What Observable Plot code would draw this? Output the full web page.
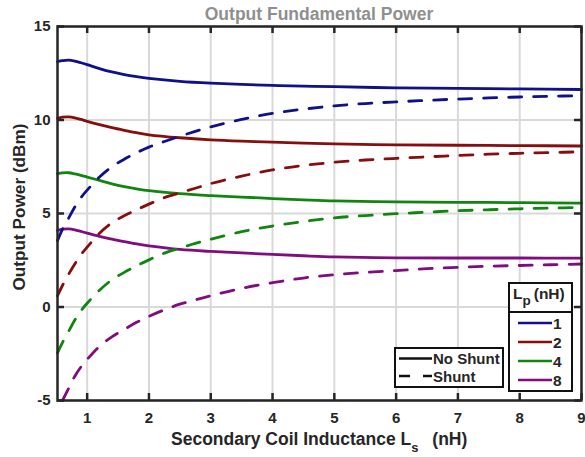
<!DOCTYPE html>
<html><head><meta charset="utf-8">
<script src="https://cdn.jsdelivr.net/npm/d3@7"></script>
<script src="https://cdn.jsdelivr.net/npm/@observablehq/plot@0.6"></script>
<style>
body{margin:0;background:#fff;}
#wrap{position:relative;width:585px;height:457px;}
</style></head><body><div id="wrap"></div>
<script>
// ---- data ----
const lpValues = ["1", "2", "4", "8"];
const lpColors = ["#10108a", "#860e0e", "#108610", "#800c80"];
const xTicks = [1, 2, 3, 4, 5, 6, 7, 8, 9];
const yTicks = [-5, 0, 5, 10, 15];

const lsSolid = [0.52,0.6,0.7,0.8,0.9,1.0,1.2,1.4,1.6,1.8,2.0,2.5,3.0,3.5,4.0,4.5,5.0,6.0,7.0,8.0,9.0];
const solid1 = [13.12,13.17,13.2,13.15,13.06,12.96,12.75,12.57,12.43,12.32,12.23,12.07,11.97,11.9,11.85,11.81,11.78,11.72,11.69,11.66,11.63];
const solid2 = [10.09,10.15,10.17,10.12,10.03,9.93,9.75,9.59,9.45,9.32,9.21,9.05,8.94,8.87,8.82,8.76,8.72,8.67,8.65,8.63,8.61];
const solid4 = [7.13,7.17,7.18,7.12,7.04,6.95,6.77,6.59,6.44,6.32,6.22,6.06,5.96,5.88,5.8,5.73,5.67,5.62,5.6,5.58,5.56];
const solid8 = [4.1,4.16,4.18,4.13,4.04,3.95,3.78,3.63,3.5,3.37,3.27,3.08,2.97,2.89,2.81,2.74,2.68,2.63,2.62,2.62,2.61];

const lsDash = [0.52,0.6,0.7,0.8,0.9,1.0,1.2,1.4,1.6,1.8,2.0,2.25,2.5,2.75,3.0,3.5,4.0,4.5,5.0,5.5,6.0,6.5,7.0,7.5,8.0,8.5,9.0];
const dash1 = [3.55,4.15,4.75,5.35,5.85,6.25,6.95,7.5,7.9,8.25,8.55,8.85,9.13,9.39,9.63,10.03,10.36,10.58,10.76,10.88,10.97,11.05,11.12,11.18,11.23,11.27,11.3];
const dash2 = [0.6,1.15,1.75,2.3,2.8,3.2,3.95,4.5,4.88,5.2,5.5,5.85,6.1,6.35,6.6,7.0,7.33,7.57,7.74,7.86,7.95,8.03,8.1,8.17,8.22,8.26,8.3];
const dash4 = [-2.45,-1.9,-1.3,-0.7,-0.2,0.2,0.9,1.45,1.85,2.2,2.52,2.88,3.15,3.4,3.62,4.03,4.33,4.57,4.77,4.89,4.99,5.07,5.15,5.2,5.25,5.29,5.32];
const dash8 = [null,-5.0,-4.35,-3.7,-3.2,-2.8,-2.1,-1.6,-1.2,-0.82,-0.5,-0.15,0.15,0.38,0.6,1.0,1.3,1.55,1.73,1.85,1.95,2.05,2.12,2.18,2.22,2.26,2.3];

// ---- tables ----
const solidSeries = [solid1, solid2, solid4, solid8];
const dashSeries = [dash1, dash2, dash4, dash8];
const solidRows = lpValues.flatMap((lp, i) => lsSolid.map((ls, j) => ({lp, ls, p: solidSeries[i][j]})));
const dashRows = lpValues.flatMap((lp, i) => lsDash.map((ls, j) => ({lp, ls, p: dashSeries[i][j]})))
  .filter(d => d.p !== null);

// ---- layout ----
const W = 585, H = 457, mL = 57, mR = 4, mT = 26, mB = 57;
const innerW = W - mL - mR, innerH = H - mT - mB;
const font = "'Liberation Sans', Arial, Helvetica, sans-serif";
const ink = "#262626";
const tickLen = 7;

const chart = Plot.plot({
  width: W, height: H,
  marginLeft: mL, marginRight: mR, marginTop: mT, marginBottom: mB,
  x: {domain: [0.52, 9]},
  y: {domain: [-5, 15]},
  color: {domain: lpValues, range: lpColors},
  style: {fontFamily: font, fontSize: "15px", fontWeight: "bold", background: "white", color: ink},
  marks: [
    Plot.gridX({ticks: xTicks, stroke: "#d9d9d9", strokeOpacity: 1, strokeWidth: 2}),
    Plot.gridY({ticks: yTicks, stroke: "#d9d9d9", strokeOpacity: 1, strokeWidth: 2}),
    Plot.line(solidRows, {x: "ls", y: "p", z: "lp", stroke: "lp", strokeWidth: 2.8, curve: "catmull-rom"}),
    Plot.line(dashRows, {x: "ls", y: "p", z: "lp", stroke: "lp", strokeWidth: 2.8, curve: "catmull-rom", strokeDasharray: "13,12"}),
    Plot.tickX(xTicks, {x: d => d, stroke: ink, strokeWidth: 2.5, insetTop: innerH - tickLen}),
    Plot.tickX(xTicks, {x: d => d, stroke: ink, strokeWidth: 2.5, insetBottom: innerH - tickLen}),
    Plot.tickY(yTicks, {y: d => d, stroke: ink, strokeWidth: 2.5, insetRight: innerW - tickLen}),
    Plot.tickY(yTicks, {y: d => d, stroke: ink, strokeWidth: 2.5, insetLeft: innerW - tickLen}),
    Plot.axisX({ticks: xTicks, tickSize: 0, tickPadding: 12, fontSize: 15, fontWeight: "bold", fill: ink, label: null, tickFormat: d => String(d)}),
    Plot.axisY({ticks: yTicks, tickSize: 0, tickPadding: 7, fontSize: 15, fontWeight: "bold", fill: ink, label: null, tickFormat: d => String(d)}),
    Plot.frame({stroke: ink, strokeWidth: 2.5})
  ]
});
chart.style.position = "absolute";
chart.style.left = "0px";
chart.style.top = "0px";
document.getElementById("wrap").appendChild(chart);

// ---- titles, axis labels and legends (text overlays) ----
const svg = d3.select(chart);
const g = svg.append("g").attr("font-family", font).attr("font-weight", "bold").attr("text-anchor", "start");

g.append("text").attr("x", 319).attr("y", 19.5).attr("text-anchor", "middle")
  .attr("font-size", 17.5).attr("fill", "#8f8f8f").text("Output Fundamental Power");

const xl = g.append("text").attr("x", 171).attr("y", 444.5).attr("font-size", 17.5).attr("fill", ink);
xl.append("tspan").text("Secondary Coil Inductance L");
xl.append("tspan").attr("font-size", 13).attr("dy", 7).text("s");
xl.append("tspan").attr("dy", -7).attr("dx", 9).text(" (nH)");

g.append("text").attr("transform", "translate(25,207) rotate(-90)").attr("text-anchor", "middle")
  .attr("font-size", 17.2).attr("fill", ink).text("Output Power (dBm)");

// Shunt legend
const l2 = g.append("g");
l2.append("rect").attr("x", 395).attr("y", 348).attr("width", 108).attr("height", 39)
  .attr("fill", "white").attr("stroke", "#111").attr("stroke-width", 2);
const shuntRows = [{name: "No Shunt", dash: null, y: 358.5}, {name: "Shunt", dash: "11,13", y: 376}];
shuntRows.forEach(r => {
  const ln = l2.append("line").attr("x1", 399).attr("x2", 432).attr("y1", r.y).attr("y2", r.y)
    .attr("stroke", "#111").attr("stroke-width", 2.6);
  if (r.dash) ln.attr("stroke-dasharray", r.dash);
  l2.append("text").attr("x", 433).attr("y", r.y + 5.5).attr("font-size", 15).attr("fill", ink).text(r.name);
});

// Lp legend
const l1 = g.append("g");
l1.append("rect").attr("x", 509).attr("y", 283).attr("width", 63).attr("height", 29)
  .attr("fill", "white").attr("stroke", "#111").attr("stroke-width", 2);
l1.append("rect").attr("x", 509).attr("y", 312).attr("width", 63).attr("height", 79)
  .attr("fill", "white").attr("stroke", "#111").attr("stroke-width", 2);
const lt = l1.append("text").attr("x", 513).attr("y", 299).attr("font-size", 15.5).attr("fill", ink);
lt.append("tspan").text("L");
lt.append("tspan").attr("font-size", 13.5).attr("dy", 6).text("p");
lt.append("tspan").attr("dy", -6).attr("dx", 3).text("(nH)");
lpValues.forEach((lp, i) => {
  const y = 323 + i * 19;
  l1.append("line").attr("x1", 518).attr("x2", 552).attr("y1", y).attr("y2", y)
    .attr("stroke", lpColors[i]).attr("stroke-width", 2.6);
  l1.append("text").attr("x", 553).attr("y", y + 5.5).attr("font-size", 15.5).attr("fill", ink).text(lp);
});
</script>
</body></html>
